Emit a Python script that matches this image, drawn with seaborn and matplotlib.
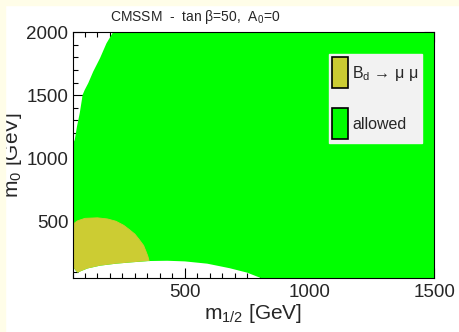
"""
CMSSM tan(beta)=50, A0=0 : B_d -> mu mu excluded region vs allowed region
"""
import matplotlib
matplotlib.use("Agg")
import matplotlib.pyplot as plt
from matplotlib.patches import Patch, Rectangle
from matplotlib.ticker import MultipleLocator
import seaborn as sns
import pandas as pd

#  Data 
# theoretically excluded, upper-left corner
top_m12 = [50, 59, 68, 79, 88, 90, 99, 113, 133, 160, 186, 213]
top_m0  = [1107, 1147, 1253, 1358, 1470, 1500, 1542, 1595, 1687, 1792, 1910, 2000]

# theoretically excluded, bottom band
low_m12 = [50, 60, 70, 90, 110, 160, 225, 290, 360, 430, 500, 590, 680, 750, 808]
low_m0  = [150, 118, 95, 112, 128, 150, 166, 177, 187, 189, 184, 166, 130, 95, 50]

# B_d -> mu mu excluded contour (upper edge)
bd_m12 = [50, 70, 100, 150, 190, 224, 255, 277, 300, 317, 335, 344, 352, 357]
bd_m0  = [476, 505, 525, 529, 520, 502, 470, 437, 400, 358, 310, 266, 225, 188]

XMIN, XMAX = 50, 1500
YMIN, YMAX = 50, 2000

GREEN = "#00ff00"
OLIVE = "#cccc33"
CREAM = "#fffde8"

#  Style 
sns.set_style("ticks")
plt.rcParams["font.family"] = ["Liberation Sans", "DejaVu Sans"]
plt.rcParams["mathtext.fontset"] = "custom"
plt.rcParams["mathtext.rm"] = "Liberation Sans"
plt.rcParams["mathtext.it"] = "Liberation Sans"
plt.rcParams["mathtext.default"] = "regular"

fig = plt.figure(figsize=(4.59, 3.32), dpi=100)
ax = fig.add_axes([0.158, 0.1617, 0.946 - 0.158, 0.9036 - 0.1617])

#  Regions 
# allowed: between the two excluded bands, filling up to the frame
allowed_x = top_m12 + [XMAX, XMAX] + low_m12[::-1]
allowed_y = top_m0 + [YMAX, YMIN] + low_m0[::-1]
ax.fill(allowed_x, allowed_y, color=GREEN, lw=0, zorder=1)

# B_d -> mu mu: contour down to the bottom excluded band
low_df = pd.DataFrame({"m12": low_m12, "m0": low_m0})
under = low_df[low_df["m12"] <= bd_m12[-1]]
bd_x = bd_m12 + under["m12"].tolist()[::-1]
bd_y = bd_m0 + under["m0"].tolist()[::-1]
ax.fill(bd_x, bd_y, color=OLIVE, lw=0, zorder=2)

bd_df = pd.DataFrame({"m12": bd_m12, "m0": bd_m0})
sns.lineplot(data=bd_df, x="m12", y="m0", color=OLIVE, lw=0.6,
             estimator=None, sort=False, ax=ax, zorder=2)

#  Axes 
ax.set_xlim(XMIN, XMAX)
ax.set_ylim(YMIN, YMAX)
ax.xaxis.set_major_locator(MultipleLocator(500))
ax.xaxis.set_minor_locator(MultipleLocator(50))
ax.yaxis.set_major_locator(MultipleLocator(500))
ax.yaxis.set_minor_locator(MultipleLocator(100))
ax.tick_params(which="both", direction="in", top=True, right=True,
               width=0.8, color="black", labelsize=13.5)
ax.tick_params(which="major", length=7)
ax.tick_params(which="minor", length=3.5)
ax.tick_params(axis="x", pad=4)
ax.tick_params(axis="y", pad=3)
for sp in ax.spines.values():
    sp.set_linewidth(0.8)
    sp.set_color("black")
    sp.set_zorder(5)

ax.set_xlabel("m$_{1/2}$ [GeV]", fontsize=15, labelpad=1)
ax.set_ylabel("m$_0$ [GeV]", fontsize=15)
ax.yaxis.set_label_coords(-0.135, 0.5)

#  Legend 
handles = [
    Patch(facecolor=OLIVE, edgecolor="black", lw=1.2,
          label="B$_d$ \u2192 \u03bc \u03bc"),
    Patch(facecolor=GREEN, edgecolor="black", lw=1.2, label="allowed"),
]
leg = ax.legend(handles=handles, loc="upper left", bbox_to_anchor=(0.709, 0.911),
                borderaxespad=0, fontsize=11.5, handlelength=0.95, handleheight=2.6,
                labelspacing=1.25, handletextpad=0.28, borderpad=0.22,
                frameon=True, fancybox=False, framealpha=1)
leg.get_frame().set_facecolor("#f2f2f2")
leg.get_frame().set_edgecolor("#f2f2f2")
leg.set_zorder(6)

#  Title and page border 
fig.text(110 / 459, 1 - 17 / 332, "CMSSM  -  tan \u03b2=50,  A$_0$=0",
         fontsize=10, ha="left", va="center")
fig.patches.append(Rectangle((0, 0), 5 / 459, 1, transform=fig.transFigure,
                             color=CREAM, zorder=0))
fig.patches.append(Rectangle((0, 1 - 5 / 332), 1, 5 / 332, transform=fig.transFigure,
                             color=CREAM, zorder=0))

fig.savefig("out.png", dpi=100)
plt.close(fig)
